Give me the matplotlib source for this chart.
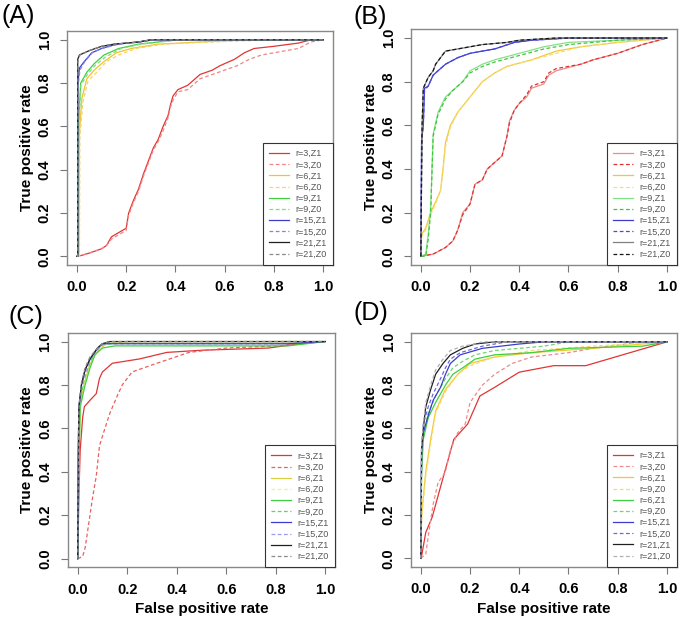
import matplotlib
matplotlib.use("Agg")
import matplotlib.pyplot as plt

plt.rcParams['font.family'] = ['Liberation Sans', 'DejaVu Sans']

# ---- data: (fpr, tpr) points per curve ----
labels_A = ["r=3,Z1", "r=3,Z0", "r=6,Z1", "r=6,Z0", "r=9,Z1", "r=9,Z0",
            "r=15,Z1", "r=15,Z0", "r=21,Z1", "r=21,Z0"]
labels_B = labels_A
labels_C = labels_A
labels_D = ["r=3,Z1", "r=3,Z0", "r=6,Z1", "r=9,Z0", "r=6,Z1", "r=9,Z0",
            "r=15,Z1", "r=15,Z0", "r=21,Z1", "r=21,Z0"]

# panel A
A_r3z1_x = [0, 0.02, 0.05, 0.1, 0.12, 0.14, 0.17, 0.2, 0.21, 0.23, 0.25, 0.27, 0.29, 0.31, 0.33, 0.35, 0.37, 0.38, 0.39, 0.41, 0.45, 0.5, 0.55, 0.58, 0.64, 0.68, 0.72, 0.8, 0.9, 0.95, 1]
A_r3z1_y = [0, 0.005, 0.015, 0.035, 0.05, 0.09, 0.11, 0.13, 0.2, 0.26, 0.31, 0.38, 0.44, 0.5, 0.54, 0.6, 0.65, 0.7, 0.74, 0.77, 0.79, 0.84, 0.86, 0.88, 0.91, 0.94, 0.96, 0.97, 0.985, 1.0, 1]
A_r3z0_x = [0, 0.02, 0.05, 0.1, 0.12, 0.14, 0.17, 0.2, 0.21, 0.23, 0.25, 0.27, 0.29, 0.31, 0.33, 0.35, 0.37, 0.38, 0.39, 0.41, 0.45, 0.5, 0.55, 0.6, 0.65, 0.7, 0.75, 0.8, 0.9, 0.95, 1]
A_r3z0_y = [0, 0.005, 0.015, 0.035, 0.05, 0.08, 0.1, 0.12, 0.19, 0.25, 0.3, 0.37, 0.43, 0.49, 0.53, 0.58, 0.64, 0.69, 0.72, 0.76, 0.77, 0.82, 0.84, 0.86, 0.88, 0.91, 0.93, 0.94, 0.96, 0.99, 1]
A_r6z1_x = [0, 0.008, 0.01, 0.02, 0.04, 0.07, 0.11, 0.16, 0.22, 0.33, 0.5, 0.7, 1]
A_r6z1_y = [0, 0.0, 0.57, 0.73, 0.82, 0.86, 0.9, 0.94, 0.96, 0.98, 0.99, 1.0, 1]
A_r6z0_x = [0, 0.01, 0.012, 0.025, 0.045, 0.08, 0.12, 0.17, 0.24, 0.35, 0.55, 0.8, 1]
A_r6z0_y = [0, 0.0, 0.56, 0.72, 0.81, 0.85, 0.9, 0.93, 0.96, 0.98, 0.99, 1.0, 1]
A_r9z1_x = [0, 0.003, 0.005, 0.015, 0.04, 0.07, 0.11, 0.17, 0.25, 0.33, 0.4, 1]
A_r9z1_y = [0, 0.0, 0.58, 0.8, 0.85, 0.89, 0.93, 0.96, 0.98, 0.99, 1.0, 1]
A_r9z0_x = [0, 0.003, 0.006, 0.016, 0.042, 0.072, 0.115, 0.18, 0.26, 0.34, 0.42, 1]
A_r9z0_y = [0, 0.0, 0.57, 0.79, 0.84, 0.88, 0.92, 0.96, 0.98, 0.99, 1.0, 1]
A_r15z1_x = [0, 0.003, 0.003, 0.01, 0.03, 0.06, 0.1, 0.16, 0.25, 0.3, 1]
A_r15z1_y = [0, 0.0, 0.79, 0.87, 0.9, 0.94, 0.96, 0.98, 0.99, 1.0, 1]
A_r15z0_x = [0, 0.003, 0.004, 0.012, 0.032, 0.062, 0.1, 0.17, 0.26, 0.32, 1]
A_r15z0_y = [0, 0.0, 0.78, 0.86, 0.9, 0.94, 0.96, 0.98, 0.99, 1.0, 1]
A_r21z1_x = [0, 0.003, 0.003, 0.01, 0.05, 0.1, 0.15, 0.25, 0.3, 1]
A_r21z1_y = [0, 0.0, 0.91, 0.93, 0.95, 0.97, 0.98, 0.99, 1.0, 1]
A_r21z0_x = [0, 0.003, 0.004, 0.012, 0.05, 0.1, 0.15, 0.25, 0.3, 1]
A_r21z0_y = [0, 0.0, 0.9, 0.93, 0.95, 0.97, 0.98, 0.99, 1.0, 1]

# panel B
B_r3z1_x = [0, 0.05, 0.1, 0.13, 0.15, 0.17, 0.2, 0.22, 0.25, 0.27, 0.3, 0.33, 0.35, 0.36, 0.38, 0.4, 0.43, 0.45, 0.5, 0.52, 0.55, 0.65, 0.7, 0.8, 0.9, 1]
B_r3z1_y = [0, 0.01, 0.04, 0.07, 0.12, 0.2, 0.24, 0.33, 0.35, 0.4, 0.43, 0.46, 0.55, 0.62, 0.67, 0.7, 0.73, 0.77, 0.79, 0.83, 0.85, 0.88, 0.9, 0.93, 0.97, 1]
B_r3z0_x = [0, 0.05, 0.1, 0.13, 0.15, 0.17, 0.2, 0.22, 0.25, 0.27, 0.3, 0.33, 0.35, 0.36, 0.38, 0.4, 0.43, 0.45, 0.5, 0.52, 0.55, 0.65, 0.7, 0.8, 0.9, 1]
B_r3z0_y = [0, 0.01, 0.04, 0.07, 0.12, 0.19, 0.24, 0.33, 0.35, 0.4, 0.43, 0.46, 0.55, 0.61, 0.67, 0.7, 0.74, 0.78, 0.8, 0.84, 0.86, 0.88, 0.9, 0.93, 0.97, 1]
B_r6z1_x = [0, 0.003, 0.02, 0.04, 0.06, 0.08, 0.09, 0.1, 0.12, 0.15, 0.2, 0.25, 0.3, 0.35, 0.45, 0.55, 0.65, 0.8, 1]
B_r6z1_y = [0, 0.1, 0.13, 0.2, 0.25, 0.3, 0.4, 0.52, 0.6, 0.66, 0.73, 0.8, 0.84, 0.87, 0.9, 0.94, 0.96, 0.98, 1]
B_r6z0_x = [0, 0.003, 0.02, 0.04, 0.06, 0.08, 0.09, 0.1, 0.12, 0.15, 0.2, 0.25, 0.3, 0.35, 0.45, 0.55, 0.65, 0.8, 1]
B_r6z0_y = [0, 0.09, 0.12, 0.19, 0.24, 0.3, 0.39, 0.5, 0.59, 0.66, 0.73, 0.8, 0.84, 0.87, 0.9, 0.93, 0.96, 0.98, 1]
B_r9z1_x = [0, 0.02, 0.03, 0.04, 0.05, 0.07, 0.1, 0.13, 0.17, 0.2, 0.25, 0.3, 0.4, 0.5, 0.6, 0.8, 1]
B_r9z1_y = [0, 0.01, 0.1, 0.22, 0.56, 0.66, 0.73, 0.76, 0.8, 0.85, 0.88, 0.9, 0.93, 0.96, 0.98, 0.99, 1]
B_r9z0_x = [0, 0.02, 0.03, 0.04, 0.05, 0.07, 0.1, 0.13, 0.17, 0.2, 0.25, 0.3, 0.4, 0.5, 0.6, 0.8, 1]
B_r9z0_y = [0, 0.0, 0.08, 0.2, 0.55, 0.65, 0.72, 0.76, 0.8, 0.84, 0.87, 0.89, 0.92, 0.95, 0.97, 0.99, 1]
B_r15z1_x = [0, 0.003, 0.01, 0.015, 0.03, 0.05, 0.07, 0.1, 0.15, 0.2, 0.3, 0.38, 0.45, 0.6, 1]
B_r15z1_y = [0, 0.53, 0.6, 0.77, 0.78, 0.83, 0.85, 0.88, 0.91, 0.93, 0.95, 0.98, 0.99, 1.0, 1]
B_r15z0_x = [0, 0.003, 0.01, 0.015, 0.03, 0.05, 0.07, 0.1, 0.15, 0.2, 0.3, 0.38, 0.45, 0.6, 1]
B_r15z0_y = [0, 0.52, 0.6, 0.76, 0.78, 0.83, 0.85, 0.88, 0.91, 0.93, 0.95, 0.98, 0.99, 1.0, 1]
B_r21z1_x = [0, 0.005, 0.01, 0.03, 0.05, 0.06, 0.08, 0.1, 0.15, 0.25, 0.35, 0.4, 0.55, 1]
B_r21z1_y = [0, 0.6, 0.77, 0.82, 0.85, 0.88, 0.91, 0.94, 0.95, 0.97, 0.98, 0.99, 1.0, 1]
B_r21z0_x = [0, 0.005, 0.01, 0.03, 0.05, 0.06, 0.08, 0.1, 0.15, 0.25, 0.35, 0.4, 0.55, 1]
B_r21z0_y = [0, 0.6, 0.77, 0.82, 0.85, 0.88, 0.91, 0.94, 0.95, 0.97, 0.98, 0.99, 1.0, 1]

# panel C
C_r3z1_x = [0, 0.005, 0.01, 0.02, 0.027, 0.05, 0.075, 0.088, 0.1, 0.14, 0.25, 0.36, 0.5, 0.77, 0.9, 1]
C_r3z1_y = [0, 0.3, 0.5, 0.65, 0.7, 0.73, 0.76, 0.83, 0.86, 0.9, 0.92, 0.95, 0.96, 0.97, 0.99, 1]
C_r3z0_x = [0, 0.02, 0.03, 0.047, 0.06, 0.075, 0.088, 0.11, 0.13, 0.16, 0.18, 0.22, 0.32, 0.45, 0.6, 0.8, 1]
C_r3z0_y = [0, 0.01, 0.05, 0.18, 0.28, 0.38, 0.52, 0.6, 0.67, 0.75, 0.8, 0.86, 0.9, 0.95, 0.97, 0.98, 1]
C_r6z1_x = [0, 0.004, 0.01, 0.025, 0.045, 0.065, 0.09, 0.12, 0.2, 1]
C_r6z1_y = [0, 0.4, 0.7, 0.8, 0.88, 0.93, 0.97, 0.99, 1.0, 1]
C_r6z0_x = [0, 0.004, 0.01, 0.025, 0.045, 0.065, 0.09, 0.12, 0.2, 1]
C_r6z0_y = [0, 0.4, 0.69, 0.79, 0.87, 0.93, 0.97, 0.99, 1.0, 1]
C_r9z1_x = [0, 0.004, 0.01, 0.03, 0.05, 0.07, 0.1, 0.15, 0.85, 1]
C_r9z1_y = [0, 0.4, 0.7, 0.8, 0.88, 0.94, 0.97, 0.98, 0.98, 1]
C_r9z0_x = [0, 0.004, 0.01, 0.025, 0.045, 0.065, 0.09, 0.12, 0.85, 1]
C_r9z0_y = [0, 0.42, 0.72, 0.82, 0.89, 0.94, 0.98, 0.99, 0.99, 1]
C_r15z1_x = [0, 0.003, 0.005, 0.015, 0.03, 0.05, 0.08, 0.1, 0.13, 0.85, 1]
C_r15z1_y = [0, 0.45, 0.7, 0.8, 0.87, 0.92, 0.97, 0.99, 0.99, 0.99, 1]
C_r15z0_x = [0, 0.003, 0.006, 0.016, 0.032, 0.05, 0.08, 0.1, 0.13, 1]
C_r15z0_y = [0, 0.45, 0.68, 0.8, 0.86, 0.92, 0.96, 0.99, 1.0, 1]
C_r21z1_x = [0, 0.002, 0.005, 0.015, 0.03, 0.05, 0.08, 0.1, 0.13, 1]
C_r21z1_y = [0, 0.5, 0.7, 0.8, 0.87, 0.92, 0.97, 0.99, 1.0, 1]
C_r21z0_x = [0, 0.002, 0.005, 0.015, 0.03, 0.05, 0.08, 0.1, 0.13, 1]
C_r21z0_y = [0, 0.5, 0.7, 0.81, 0.88, 0.93, 0.97, 0.99, 1.0, 1]

# panel D
D_r3z1_x = [0, 0.003, 0.02, 0.046, 0.08, 0.107, 0.134, 0.19, 0.24, 0.3, 0.4, 0.54, 0.67, 1]
D_r3z1_y = [0, 0.01, 0.12, 0.19, 0.33, 0.44, 0.55, 0.62, 0.75, 0.79, 0.86, 0.89, 0.89, 1]
D_r3z0_x = [0, 0.02, 0.03, 0.05, 0.07, 0.1, 0.12, 0.15, 0.18, 0.2, 0.25, 0.3, 0.37, 0.45, 0.6, 0.7, 0.9, 1]
D_r3z0_y = [0, 0.02, 0.1, 0.25, 0.35, 0.4, 0.5, 0.58, 0.62, 0.72, 0.8, 0.85, 0.9, 0.93, 0.95, 0.97, 1.0, 1]
D_r6z1_x = [0, 0.003, 0.02, 0.04, 0.06, 0.1, 0.15, 0.2, 0.3, 0.45, 0.7, 1]
D_r6z1_y = [0, 0.2, 0.4, 0.55, 0.68, 0.78, 0.85, 0.9, 0.93, 0.95, 0.97, 1]
D_r9z0a_x = [0, 0.003, 0.02, 0.04, 0.06, 0.1, 0.15, 0.2, 0.3, 0.45, 0.7, 1]
D_r9z0a_y = [0, 0.18, 0.38, 0.53, 0.67, 0.77, 0.85, 0.89, 0.93, 0.96, 0.98, 1]
D_r6z1b_x = [0, 0.003, 0.01, 0.03, 0.06, 0.1, 0.13, 0.17, 0.22, 0.3, 0.45, 0.6, 0.9, 1]
D_r6z1b_y = [0, 0.4, 0.55, 0.65, 0.72, 0.8, 0.85, 0.88, 0.92, 0.94, 0.95, 0.97, 0.98, 1]
D_r9z0b_x = [0, 0.003, 0.01, 0.03, 0.06, 0.1, 0.13, 0.17, 0.22, 0.3, 0.5, 0.6, 1]
D_r9z0b_y = [0, 0.42, 0.57, 0.67, 0.75, 0.83, 0.88, 0.91, 0.94, 0.96, 0.98, 1.0, 1]
D_r15z1_x = [0, 0.003, 0.01, 0.03, 0.05, 0.08, 0.1, 0.12, 0.16, 0.25, 0.4, 0.5, 1]
D_r15z1_y = [0, 0.5, 0.58, 0.66, 0.73, 0.79, 0.85, 0.9, 0.94, 0.97, 0.99, 1.0, 1]
D_r15z0_x = [0, 0.003, 0.01, 0.03, 0.05, 0.08, 0.1, 0.12, 0.16, 0.25, 0.35, 1]
D_r15z0_y = [0, 0.52, 0.62, 0.7, 0.76, 0.83, 0.88, 0.92, 0.95, 0.98, 1.0, 1]
D_r21z1_x = [0, 0.003, 0.01, 0.02, 0.04, 0.06, 0.09, 0.12, 0.17, 0.22, 0.3, 1]
D_r21z1_y = [0, 0.5, 0.6, 0.7, 0.78, 0.85, 0.9, 0.94, 0.97, 0.99, 1.0, 1]
D_r21z0_x = [0, 0.003, 0.01, 0.02, 0.04, 0.06, 0.09, 0.12, 0.17, 0.22, 0.25, 1]
D_r21z0_y = [0, 0.52, 0.62, 0.72, 0.8, 0.87, 0.92, 0.96, 0.98, 0.99, 1.0, 1]

curves_A = [(A_r3z1_x, A_r3z1_y), (A_r3z0_x, A_r3z0_y), (A_r6z1_x, A_r6z1_y), (A_r6z0_x, A_r6z0_y),
            (A_r9z1_x, A_r9z1_y), (A_r9z0_x, A_r9z0_y), (A_r15z1_x, A_r15z1_y), (A_r15z0_x, A_r15z0_y),
            (A_r21z1_x, A_r21z1_y), (A_r21z0_x, A_r21z0_y)]
curves_B = [(B_r3z1_x, B_r3z1_y), (B_r3z0_x, B_r3z0_y), (B_r6z1_x, B_r6z1_y), (B_r6z0_x, B_r6z0_y),
            (B_r9z1_x, B_r9z1_y), (B_r9z0_x, B_r9z0_y), (B_r15z1_x, B_r15z1_y), (B_r15z0_x, B_r15z0_y),
            (B_r21z1_x, B_r21z1_y), (B_r21z0_x, B_r21z0_y)]
curves_C = [(C_r3z1_x, C_r3z1_y), (C_r3z0_x, C_r3z0_y), (C_r6z1_x, C_r6z1_y), (C_r6z0_x, C_r6z0_y),
            (C_r9z1_x, C_r9z1_y), (C_r9z0_x, C_r9z0_y), (C_r15z1_x, C_r15z1_y), (C_r15z0_x, C_r15z0_y),
            (C_r21z1_x, C_r21z1_y), (C_r21z0_x, C_r21z0_y)]
curves_D = [(D_r3z1_x, D_r3z1_y), (D_r3z0_x, D_r3z0_y), (D_r6z1_x, D_r6z1_y), (D_r9z0a_x, D_r9z0a_y),
            (D_r6z1b_x, D_r6z1b_y), (D_r9z0b_x, D_r9z0b_y), (D_r15z1_x, D_r15z1_y), (D_r15z0_x, D_r15z0_y),
            (D_r21z1_x, D_r21z1_y), (D_r21z0_x, D_r21z0_y)]

colors_A = ["#e03535", "#f08585", "#f2c230", "#f5d46a", "#3ecf3e", "#7ede7e", "#3c3cd0", "#8484e6", "#202020", "#8a8a8a"]
colors_B = ["#f08a8a", "#e03030", "#f2c832", "#f5dc80", "#86e086", "#3cc83c", "#3c3cd0", "#4a4ad8", "#808080", "#151515"]
colors_C = ["#e03535", "#e86060", "#d8d040", "#f2eea0", "#3ecf3e", "#5ad85a", "#3c3cd0", "#9a9af0", "#202020", "#8a8a8a"]
colors_D = ["#e03535", "#f08a8a", "#f2c832", "#f5dc70", "#3ecf3e", "#6ad86a", "#3c3cd0", "#6a6ae0", "#202020", "#b0b0b0"]
styles = ["-", "--"] * 5

fig = plt.figure(figsize=(6.85, 6.17), dpi=100)
positions = [[0.098, 0.5705, 0.388, 0.379], [0.600, 0.5705, 0.388, 0.382],
             [0.099, 0.0805, 0.390, 0.380], [0.600, 0.0810, 0.388, 0.379]]
panels = [("(A)", curves_A, colors_A, labels_A, False),
          ("(B)", curves_B, colors_B, labels_B, False),
          ("(C)", curves_C, colors_C, labels_C, True),
          ("(D)", curves_D, colors_D, labels_D, True)]
tag_pos = [(0.002, 0.994), (0.516, 0.992), (0.012, 0.505), (0.516, 0.512)]

for i, (tag, curves, cols, labs, bottom) in enumerate(panels):
    ax = fig.add_axes(positions[i])
    for (xs, ys), c, ls, lab in zip(curves, cols, styles, labs):
        ax.plot(xs, ys, color=c, linestyle=ls, lw=0.9, label=lab,
                dashes=(3, 2) if ls == "--" else (None, None))
    ax.set_xlim(-0.04, 1.04)
    ax.set_ylim(-0.04, 1.04)
    ticks = [0.0, 0.2, 0.4, 0.6, 0.8, 1.0]
    ax.set_xticks(ticks)
    ax.set_yticks(ticks)
    ax.set_xticklabels(["%.1f" % t for t in ticks], fontweight="bold", fontsize=10.5)
    ax.set_yticklabels(["%.1f" % t for t in ticks], fontweight="bold", fontsize=10.5,
                       rotation=90, va="center")
    ax.tick_params(color="#777777", length=5, width=0.8)
    ax.tick_params(axis="x", pad=6)
    ax.tick_params(axis="y", pad=6)
    for s in ax.spines.values():
        s.set_color("#888888")
        s.set_linewidth(1.0)
    ax.set_ylabel("True positive rate", fontweight="bold", fontsize=11, labelpad=3)
    if bottom:
        ax.set_xlabel("False positive rate", fontweight="bold", fontsize=11, labelpad=4)
    leg = ax.legend(loc="lower right", borderaxespad=0, fontsize=6.5, handlelength=2.2,
                    labelspacing=0.24, fancybox=False, framealpha=1, borderpad=0.7,
                    handletextpad=0.7, edgecolor="#333333")
    for t in leg.get_texts():
        t.set_color("#555555")
    leg.get_frame().set_linewidth(0.8)
    fig.text(tag_pos[i][0], tag_pos[i][1], tag, fontsize=18, va="top", ha="left")

fig.savefig("out.png", dpi=100)
